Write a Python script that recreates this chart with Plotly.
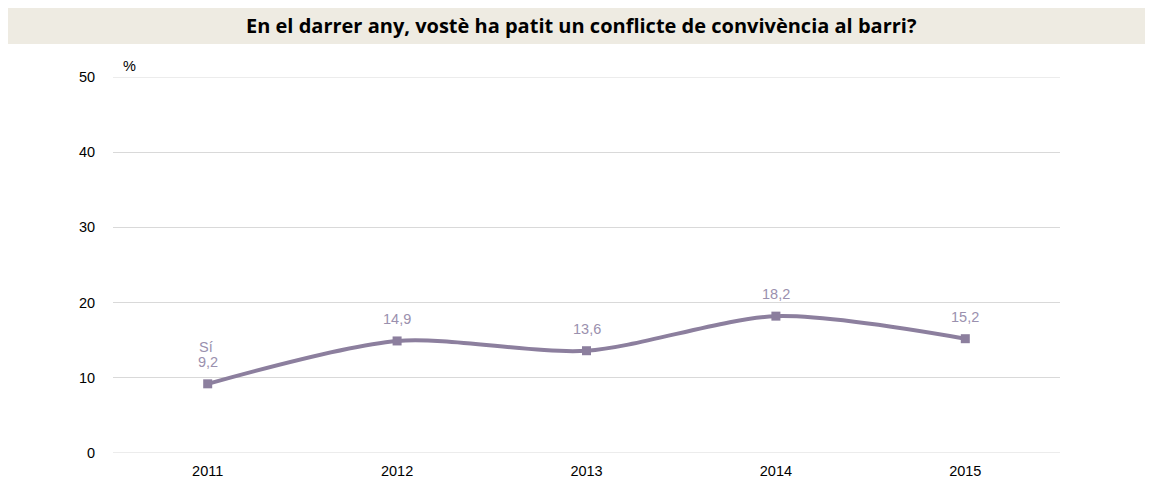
import plotly.graph_objects as go

years = ["2011", "2012", "2013", "2014", "2015"]
values = [9.2, 14.9, 13.6, 18.2, 15.2]
value_labels = ["9,2", "14,9", "13,6", "18,2", "15,2"]
series_name = "Sí"
yticks = [0, 10, 20, 30, 40, 50]

OFF = 8  # page body margin
W, H = 1153 - OFF, 479 - OFF
# desired page-pixel positions of the plot area
PL, PR, PT, PB = 113, 1060, 77, 453
L, T = PL - OFF, PT - OFF
R = W - (PR - OFF)
B = H - (PB - OFF)
pw, ph = W - L - R, H - T - B

def px_x(x):
    return (x - PL) / pw

def px_y(y):
    return (PB - y) / ph

line_color = "#8C7F9E"
label_color = "#9A90AE"
font_fam = "Liberation Sans, Arial"
fs = 14.5

fig = go.Figure()
fig.add_trace(go.Scatter(
    x=years, y=values, mode="lines+markers", name=series_name,
    line=dict(color=line_color, width=4, shape="spline", smoothing=0.8),
    marker=dict(symbol="square", size=9, color=line_color),
    cliponaxis=False, hoverinfo="skip", showlegend=False,
))

for i, (v, lab) in enumerate(zip(values, value_labels)):
    fig.add_annotation(x=i, y=v, xref="x", yref="y", text=lab, showarrow=False,
                       xanchor="center", yanchor="bottom", yshift=12,
                       font=dict(family=font_fam, size=fs, color=label_color))
# series name above the first label, left-aligned with it
fig.add_annotation(x=0, y=values[0], xref="x", yref="y", text=series_name, showarrow=False,
                   xanchor="left", yanchor="bottom", yshift=27, xshift=-11,
                   font=dict(family=font_fam, size=fs, color=label_color))

# gridlines at the range ends (plotly hides them at the edges)
for yv in (yticks[0], yticks[-1]):
    fig.add_shape(type="line", xref="paper", yref="y", x0=0, x1=1, y0=yv, y1=yv,
                  line=dict(color="#D9D9D9", width=1), layer="below")

fig.add_shape(type="rect", xref="paper", yref="paper",
              x0=px_x(0), x1=px_x(1160), y0=px_y(44), y1=px_y(8),
              fillcolor="#EEEBE2", line=dict(width=0), layer="below")
fig.add_annotation(xref="paper", yref="paper", x=px_x(581), y=px_y(26),
                   text="<b>En el darrer any, vostè ha patit un conflicte de convivència al barri?</b>",
                   showarrow=False, xanchor="center", yanchor="middle",
                   font=dict(family="Open Sans, Liberation Sans", size=20, color="#000000"))
fig.add_annotation(xref="paper", yref="paper", x=px_x(121), y=px_y(66),
                   text="%", showarrow=False, xanchor="left", yanchor="middle",
                   font=dict(family=font_fam, size=fs, color="#000000"))

fig.update_layout(
    width=W, height=H,
    margin=dict(l=L, r=R, t=T, b=B, pad=0, autoexpand=False),
    paper_bgcolor="white", plot_bgcolor="white",
    xaxis=dict(type="category", range=[-0.5, 4.5], showgrid=False, showline=False,
               zeroline=False, automargin=False,
               ticks="outside", ticklen=5, tickcolor="rgba(0,0,0,0)",
               tickfont=dict(family=font_fam, size=fs, color="#000000")),
    yaxis=dict(range=[0, 50], tickvals=yticks, ticktext=[str(v) for v in yticks],
               showgrid=True, gridcolor="#D9D9D9", gridwidth=1, zeroline=False,
               showline=False, automargin=False,
               ticks="outside", ticklen=14, tickcolor="rgba(0,0,0,0)",
               tickfont=dict(family=font_fam, size=fs, color="#000000")),
)

fig.write_html("out.html")
